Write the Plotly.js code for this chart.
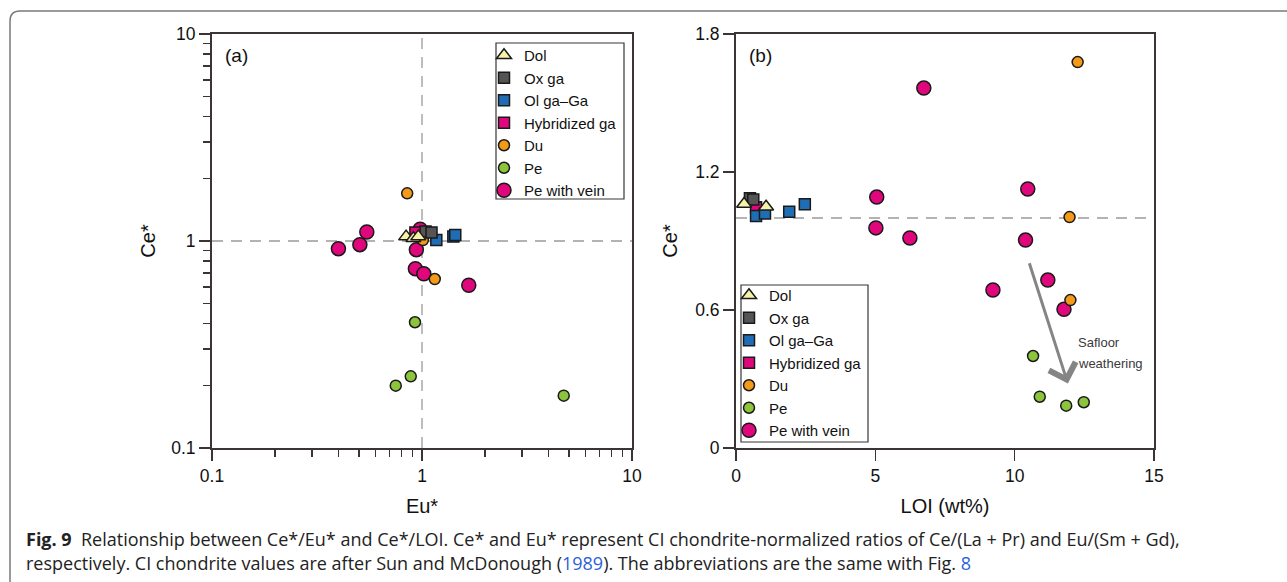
<!DOCTYPE html>
<html>
<head>
<meta charset="utf-8">
<script src="https://cdn.plot.ly/plotly-3.0.1.min.js"></script>
<style>html,body{margin:0;padding:0;background:#fff;}#chart{width:1287px;height:582px;}</style>
</head>
<body>
<div id="chart"></div>
<script>
// ---------- Data: panel (a) Ce* vs Eu* ----------
const aDolX = [0.84, 0.91, 0.96];
const aDolY = [1.05, 1.03, 1.05];
const aOxX = [1.04, 1.11];
const aOxY = [1.11, 1.10];
const aOlX = [1.17, 1.41, 1.44];
const aOlY = [1.01, 1.05, 1.07];
const aHybX = [0.93];
const aHybY = [1.10];
const aDuX = [0.85, 1.01, 1.15];
const aDuY = [1.70, 1.01, 0.655];
const aPeX = [0.926, 0.884, 0.75, 4.73];
const aPeY = [0.405, 0.222, 0.20, 0.179];
const aPvX = [0.40, 0.506, 0.546, 0.98, 0.94, 0.93, 1.02, 1.67];
const aPvY = [0.918, 0.96, 1.105, 1.14, 0.908, 0.735, 0.695, 0.611];

// ---------- Data: panel (b) Ce* vs LOI ----------
const bDolX = [0.29, 1.08];
const bDolY = [1.061, 1.049];
const bOxX = [0.5, 0.62];
const bOxY = [1.086, 1.08];
const bOlX = [0.72, 1.04, 1.91, 2.47];
const bOlY = [1.009, 1.02, 1.027, 1.06];
const bHybX = [0.72];
const bHybY = [1.047];
const bDuX = [12.26, 11.97, 12.0];
const bDuY = [1.678, 1.004, 0.643];
const bPeX = [10.66, 10.90, 11.85, 12.48];
const bPeY = [0.40, 0.223, 0.184, 0.199];
const bPvX = [6.74, 5.05, 5.02, 6.24, 10.47, 10.39, 11.19, 9.22, 11.77];
const bPvY = [1.565, 1.091, 0.957, 0.913, 1.126, 0.904, 0.730, 0.687, 0.603];

const groupNames = ['Dol', 'Ox ga', 'Ol ga–Ga', 'Hybridized ga', 'Du', 'Pe', 'Pe with vein'];
const aTickVals = [0.1, 1, 10];
const aTickText = ['0.1', '1', '10'];

// ---------- Styles ----------
const styles = {
  'Dol': {symbol: 'triangle-up', color: '#f7f2a8', size: 13},
  'Ox ga': {symbol: 'square', color: '#555555', size: 11},
  'Ol ga–Ga': {symbol: 'square', color: '#1f6db4', size: 11},
  'Hybridized ga': {symbol: 'square', color: '#e0077d', size: 11},
  'Du': {symbol: 'circle', color: '#f49a1a', size: 11},
  'Pe': {symbol: 'circle', color: '#8cc43c', size: 11},
  'Pe with vein': {symbol: 'circle', color: '#e0077d', size: 14}
};

const panelA = {
  'Dol': [aDolX, aDolY], 'Ox ga': [aOxX, aOxY], 'Ol ga–Ga': [aOlX, aOlY],
  'Hybridized ga': [aHybX, aHybY], 'Du': [aDuX, aDuY], 'Pe': [aPeX, aPeY],
  'Pe with vein': [aPvX, aPvY]
};
const panelB = {
  'Dol': [bDolX, bDolY], 'Ox ga': [bOxX, bOxY], 'Ol ga–Ga': [bOlX, bOlY],
  'Hybridized ga': [bHybX, bHybY], 'Du': [bDuX, bDuY], 'Pe': [bPeX, bPeY],
  'Pe with vein': [bPvX, bPvY]
};

const traces = [];
const drawOrder = groupNames.slice().reverse();
drawOrder.forEach(function (name) {
  const s = styles[name];
  traces.push({
    type: 'scatter', mode: 'markers', name: name,
    x: panelA[name][0], y: panelA[name][1], xaxis: 'x', yaxis: 'y',
    legend: 'legend',
    marker: {symbol: s.symbol, color: s.color, size: s.size, line: {color: '#1a1a1a', width: 1.5}}
  });
});
drawOrder.forEach(function (name) {
  const s = styles[name];
  traces.push({
    type: 'scatter', mode: 'markers', name: name,
    x: panelB[name][0], y: panelB[name][1], xaxis: 'x2', yaxis: 'y2',
    legend: 'legend2',
    marker: {symbol: s.symbol, color: s.color, size: s.size, line: {color: '#1a1a1a', width: 1.5}}
  });
});

const W = 1287, H = 582;
const px = function (v) { return v / W; };
const py = function (v) { return 1 - v / H; };

const axisCommon = {
  showgrid: false, zeroline: false, showline: true, mirror: true,
  linecolor: '#3a3434', linewidth: 2, ticks: 'outside', ticklen: 11,
  tickwidth: 1.5, tickcolor: '#3a3434',
  tickfont: {size: 17.5, color: '#111111'}
};
const minorVals = [0.2,0.3,0.4,0.5,0.6,0.7,0.8,0.9,2,3,4,5,6,7,8,9];
const dashLine = {color: '#9a9a9a', width: 1.3, dash: '11px,8px'};

const layout = {
  width: W, height: H,
  margin: {l: 0, r: 0, t: 0, b: 0},
  paper_bgcolor: '#ffffff', plot_bgcolor: '#ffffff',
  font: {family: 'Liberation Sans, Arial, sans-serif', color: '#111111'},
  showlegend: true,
  xaxis: Object.assign({}, axisCommon, {
    domain: [px(212), px(632)], type: 'log', range: [-1, 1],
    tickvals: aTickVals, ticktext: aTickText,
    minor: {tickvals: minorVals, ticks: 'outside', ticklen: 7, tickwidth: 1.5, tickcolor: '#3a3434'},
    title: {text: 'Eu*', font: {size: 20}, standoff: 14},
    anchor: 'y'
  }),
  yaxis: Object.assign({}, axisCommon, {
    domain: [py(448), py(34)], type: 'log', range: [-1, 1],
    tickvals: aTickVals, ticktext: aTickText,
    minor: {tickvals: minorVals, ticks: 'outside', ticklen: 7, tickwidth: 1.5, tickcolor: '#3a3434'},
    title: {text: 'Ce*', font: {size: 20}, standoff: 10},
    anchor: 'x'
  }),
  xaxis2: Object.assign({}, axisCommon, {
    domain: [px(736), px(1154)], range: [0, 15], tickvals: [0, 5, 10, 15],
    title: {text: 'LOI (wt%)', font: {size: 20}, standoff: 14},
    anchor: 'y2'
  }),
  yaxis2: Object.assign({}, axisCommon, {
    domain: [py(448), py(34)], range: [0, 1.8], tickvals: [0, 0.6, 1.2, 1.8],
    ticktext: ['0', '0.6', '1.2', '1.8'],
    title: {text: 'Ce*', font: {size: 20}, standoff: 12},
    anchor: 'x2'
  }),
  legend: {
    x: px(484), y: py(39), xanchor: 'left', yanchor: 'top',
    borderwidth: 0, bgcolor: 'rgba(0,0,0,0)',
    font: {size: 15, color: '#111111'}, traceorder: 'reversed'
  },
  legend2: {
    x: px(729), y: py(279), xanchor: 'left', yanchor: 'top',
    borderwidth: 0, bgcolor: 'rgba(0,0,0,0)',
    font: {size: 15, color: '#111111'}, traceorder: 'reversed'
  },
  shapes: [
    {type: 'line', xref: 'x domain', yref: 'y', x0: 0, x1: 1, y0: 1, y1: 1, line: dashLine, layer: 'below'},
    {type: 'line', xref: 'x', yref: 'y domain', x0: 1, x1: 1, y0: 0, y1: 1, line: dashLine, layer: 'below'},
    {type: 'line', xref: 'x2 domain', yref: 'y2', x0: 0, x1: 1, y0: 1, y1: 1, line: dashLine, layer: 'below'},
    // legend boxes
    {type: 'rect', xref: 'paper', yref: 'paper', x0: px(496), x1: px(624), y0: py(199), y1: py(43),
     line: {color: '#3a3434', width: 1.2}, fillcolor: '#ffffff', layer: 'below'},
    {type: 'rect', xref: 'paper', yref: 'paper', x0: px(741), x1: px(868), y0: py(442), y1: py(285),
     line: {color: '#3a3434', width: 1.2}, fillcolor: '#ffffff', layer: 'below'},
    // figure frame
    {type: 'path', xref: 'paper', yref: 'paper',
     path: 'M ' + px(10) + ',' + py(600) + ' L ' + px(10) + ',' + py(21) +
           ' Q ' + px(10) + ',' + py(11) + ' ' + px(20) + ',' + py(11) +
           ' L ' + px(1300) + ',' + py(11),
     line: {color: '#7a7a7a', width: 1.5}}
  ],
  annotations: [
    {xref: 'paper', yref: 'paper', x: px(223), y: py(55), xanchor: 'left', yanchor: 'middle',
     text: '(a)', showarrow: false, font: {size: 19, color: '#111111'}},
    {xref: 'paper', yref: 'paper', x: px(747), y: py(55), xanchor: 'left', yanchor: 'middle',
     text: '(b)', showarrow: false, font: {size: 19, color: '#111111'}},
    {xref: 'x2', yref: 'y2', x: 11.91, y: 0.28, axref: 'x2', ayref: 'y2', ax: 10.51, ay: 0.81,
     text: '', showarrow: true, arrowhead: 4, arrowsize: 1.8, arrowwidth: 3, arrowcolor: '#858585'},
    {xref: 'paper', yref: 'paper', x: px(1076), y: py(342), xanchor: 'left', yanchor: 'middle',
     text: 'Safloor', showarrow: false, font: {size: 13, color: '#3a3a3a'}},
    {xref: 'paper', yref: 'paper', x: px(1076), y: py(363), xanchor: 'left', yanchor: 'middle',
     text: 'weathering', showarrow: false, font: {size: 13, color: '#3a3a3a'}},
    {xref: 'paper', yref: 'paper', x: px(24), y: py(539), xanchor: 'left', yanchor: 'middle',
     text: '<b>Fig. 9</b>  Relationship between Ce*/Eu* and Ce*/LOI. Ce* and Eu* represent CI chondrite-normalized ratios of Ce/(La + Pr) and Eu/(Sm + Gd),',
     showarrow: false, font: {family: 'Open Sans, sans-serif', size: 18, color: '#222222'}},
    {xref: 'paper', yref: 'paper', x: px(24), y: py(563), xanchor: 'left', yanchor: 'middle',
     text: 'respectively. CI chondrite values are after Sun and McDonough (<span style="color:#2b5fd9">1989</span>). The abbreviations are the same with Fig. <span style="color:#2b5fd9">8</span>',
     showarrow: false, font: {family: 'Open Sans, sans-serif', size: 18, color: '#222222'}}
  ]
};

Plotly.newPlot('chart', traces, layout, {displayModeBar: false, staticPlot: true});
</script>
</body>
</html>
